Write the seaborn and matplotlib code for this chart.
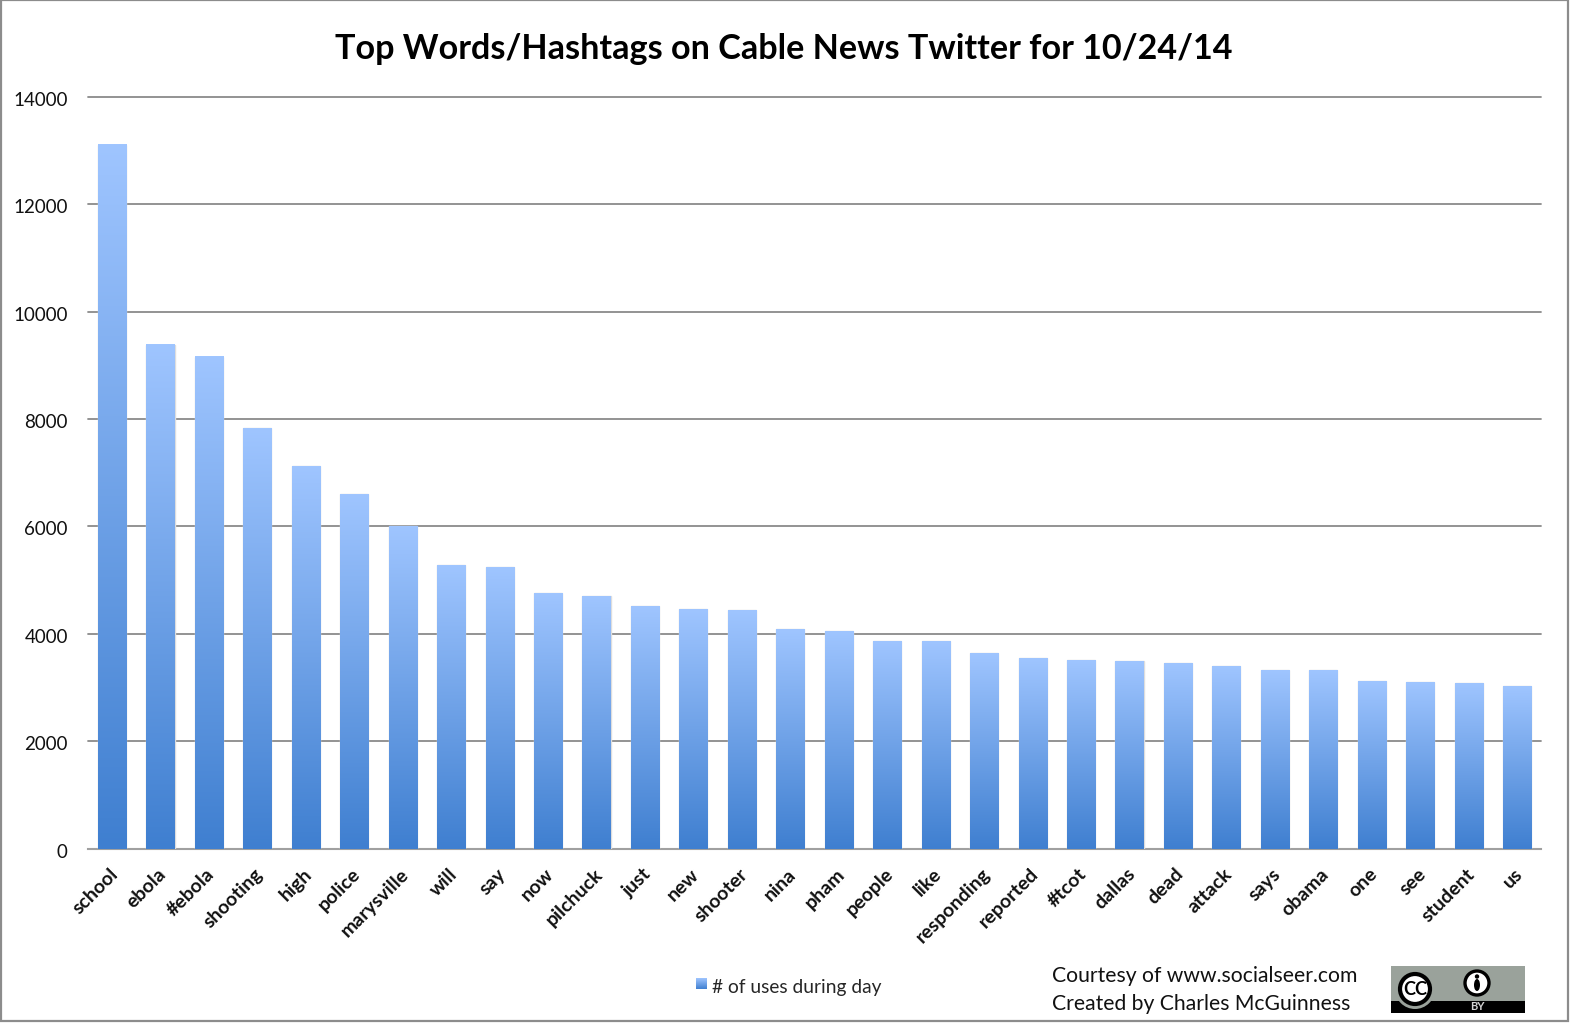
import numpy as np
import pandas as pd
import seaborn as sns
import matplotlib.pyplot as plt
from matplotlib.colors import LinearSegmentedColormap
from matplotlib.patches import Circle, Ellipse, Rectangle, Patch
from matplotlib.transforms import ScaledTranslation

words = ['school', 'ebola', '#ebola', 'shooting', 'high', 'police', 'marysville', 'will', 'say', 'now',
         'pilchuck', 'just', 'new', 'shooter', 'nina', 'pham', 'people', 'like', 'responding', 'reported',
         '#tcot', 'dallas', 'dead', 'attack', 'says', 'obama', 'one', 'see', 'student', 'us']
uses = [13110, 9385, 9160, 7835, 7125, 6605, 6010, 5285, 5245, 4760,
        4705, 4520, 4462, 4445, 4090, 4055, 3868, 3868, 3642, 3550,
        3512, 3495, 3455, 3400, 3328, 3328, 3122, 3103, 3085, 3030]
y_ticks = [0, 2000, 4000, 6000, 8000, 10000, 12000, 14000]

W, H = 1570, 1023

sns.set_theme(style='white')
plt.rcParams['font.family'] = ['Lato', 'DejaVu Sans']

fig = plt.figure(figsize=(W / 100, H / 100), dpi=100)
ax = fig.add_axes([87.8 / W, 1 - 848.7 / H, (1541.3 - 87.8) / W, (848.7 - 96.7) / H])

df = pd.DataFrame({'word': words, 'uses': uses})
sns.barplot(data=df, x='word', y='uses', width=0.58, color='#6fa0e4', ax=ax, zorder=3)

# gradient on every bar, light on top and dark at the base
blues = LinearSegmentedColormap.from_list('bar_fade', ['#3f7fd0', '#9fc5ff'])
grad = np.linspace(1, 0, 256).reshape(-1, 1)
for bar in ax.patches:
    x0, w, h = bar.get_x(), bar.get_width(), bar.get_height()
    ax.imshow(grad, cmap=blues, aspect='auto', extent=[x0, x0 + w, 0, h], zorder=4)
    bar.set_edgecolor('#dddddd')
    bar.set_linewidth(1.0)

ax.set_xlim(-0.5, len(words) - 0.5)
ax.set_ylim(0, 14000)
ax.set_yticks(y_ticks)
ax.yaxis.grid(True, color='#8a8a8a', lw=1.3, zorder=0, clip_on=False)
ax.set_axisbelow(True)
ax.set_xlabel('')
ax.set_ylabel('')
for side in ['top', 'right', 'left']:
    ax.spines[side].set_visible(False)
ax.spines['bottom'].set_color('#a0a0a0')
ax.spines['bottom'].set_linewidth(1.5)
ax.tick_params(axis='y', length=0, pad=14, labelsize=13.5, labelcolor='#111111')
ax.tick_params(axis='x', length=0, pad=12, labelsize=14, labelcolor='#111111')
plt.setp(ax.get_xticklabels(), rotation=45, ha='right', rotation_mode='anchor', fontweight='bold')

# nudge the tick labels, in pixels
for lab in ax.get_yticklabels():
    lab.set_transform(lab.get_transform() + ScaledTranslation(-0.5 / 100, -2 / 100, fig.dpi_scale_trans))
for lab in ax.get_xticklabels():
    lab.set_transform(lab.get_transform() + ScaledTranslation(-3 / 100, 0, fig.dpi_scale_trans))

fig.text(784 / W, 1 - 49 / H, 'Top Words/Hashtags on Cable News Twitter for 10/24/14',
         ha='center', va='center', fontsize=24.6, fontweight='bold', color='black')

leg = ax.legend(handles=[Patch(color='#6fa0e4', label='# of uses during day')], loc='center left',
                bbox_to_anchor=(695.7 / W, 1 - 988 / H), bbox_transform=fig.transFigure, frameon=False,
                fontsize=13.8, handlelength=0.58, handleheight=0.58, handletextpad=0.28, borderpad=0, borderaxespad=0)
leg.get_patches()[0].set_visible(False)

# gradient swatch in place of the legend handle
swatch = fig.add_axes([695.7 / W, 1 - 989 / H, 11 / W, 11 / H])
swatch.imshow(grad, cmap=blues, aspect='auto')
swatch.axis('off')

fig.text(1052 / W, 1 - 976.5 / H, 'Courtesy of www.socialseer.com', va='center', fontsize=15.2, color='#111111')
fig.text(1052 / W, 1 - 1003.5 / H, 'Created by Charles McGuinness', va='center', fontsize=15.2, color='#111111')

# CC BY badge
badge = fig.add_axes([1391 / W, 1 - 1013 / H, 134 / W, 47 / H])
badge.set_xlim(0, 134)
badge.set_ylim(47, 0)
badge.axis('off')
badge.add_patch(Rectangle((0, 0), 134, 47, fc='#9aa29b', ec='none'))
badge.add_patch(Rectangle((0, 35), 134, 12, fc='black', ec='none'))
badge.add_patch(Circle((24, 23), 20, fc='#9aa29b', ec='none'))
badge.add_patch(Circle((24, 23), 15, fc='white', ec='black', lw=3))
badge.text(24, 23.5, 'CC', ha='center', va='center', fontsize=13, fontweight='bold', color='black')
badge.add_patch(Circle((86, 17), 12, fc='white', ec='black', lw=2.4))
badge.add_patch(Circle((86, 10.5), 2.2, fc='black', ec='none'))
badge.add_patch(Ellipse((86, 19), 6, 12, fc='black', ec='none'))
badge.text(86, 41, 'BY', ha='center', va='center', fontsize=8, fontweight='bold', color='#d5d5d5')

# outer frame of the picture
fig.add_artist(Rectangle((1 / W, 1 - 1020.5 / H), 1567 / W, 1020.5 / H, transform=fig.transFigure,
                         fc='none', ec='#8c8c8c', lw=1.6))

fig.savefig('out.png', dpi=100)
